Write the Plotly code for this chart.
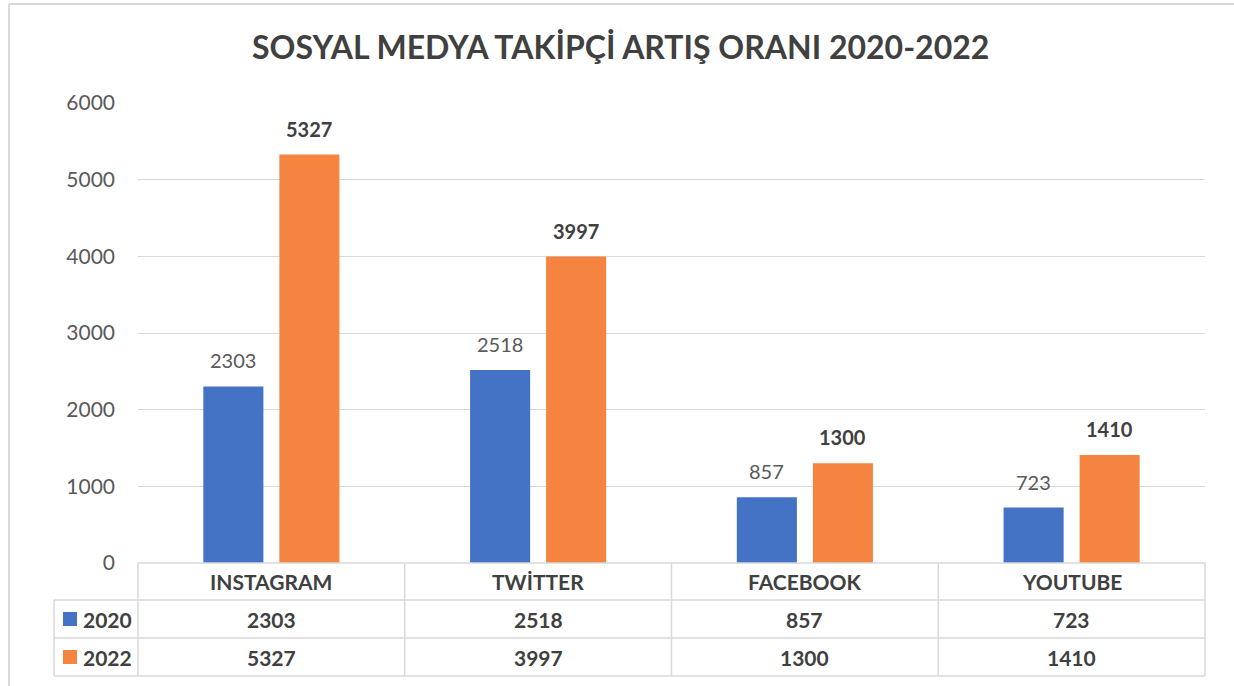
import plotly.graph_objects as go

categories = ["INSTAGRAM", "TWİTTER", "FACEBOOK", "YOUTUBE"]
series_names = ["2020", "2022"]
values_2020 = [2303, 2518, 857, 723]
values_2022 = [5327, 3997, 1300, 1410]
y_ticks = [0, 1000, 2000, 3000, 4000, 5000, 6000]
title_text = "SOSYAL MEDYA TAKİPÇİ ARTIŞ ORANI 2020-2022"

BLUE = "#4472C4"
ORANGE = "#F4843F"
GRID = "#D9D9D9"
TXT = "#595959"
TXTB = "#404040"
FONT = "Lato"

W, H = 1234, 686
L, R, T, B = 138, 29, 103, 123
PW, PH = W - L - R, H - T - B


def xp(px):
    return (px - L) / PW


def yp(py):
    return (H - B - py) / PH


fig = go.Figure()
fig.add_trace(go.Bar(x=categories, y=values_2020, name=series_names[0],
                     marker=dict(color=BLUE, line=dict(width=0))))
fig.add_trace(go.Bar(x=categories, y=values_2022, name=series_names[1],
                     marker=dict(color=ORANGE, line=dict(width=0))))

ann = []
shapes = []
slot = 76
# data labels
for i, c in enumerate(categories):
    ann.append(dict(x=c, y=values_2020[i], xref="x", yref="y", text=str(values_2020[i]),
                    showarrow=False, xshift=-slot / 2, yanchor="bottom", yshift=12,
                    font=dict(family=FONT, size=20, color=TXT)))
    ann.append(dict(x=c, y=values_2022[i], xref="x", yref="y", text="<b>%d</b>" % values_2022[i],
                    showarrow=False, xshift=slot / 2, yanchor="bottom", yshift=12,
                    font=dict(family=FONT, size=20, color=TXTB)))

# data table
row_lines = [563, 600, 638, 676]
col_edges = [138 + k * PW / 4 for k in range(5)]
lc = dict(color=GRID, width=1.5)
shapes.append(dict(type="line", xref="paper", yref="paper", x0=xp(138), x1=xp(1205),
                   y0=yp(563), y1=yp(563), line=lc, layer="above"))
for yy in row_lines[1:]:
    shapes.append(dict(type="line", xref="paper", yref="paper", x0=xp(54), x1=xp(1205),
                       y0=yp(yy), y1=yp(yy), line=lc, layer="above"))
for xx in col_edges:
    shapes.append(dict(type="line", xref="paper", yref="paper", x0=xp(xx), x1=xp(xx),
                       y0=yp(563), y1=yp(676), line=lc, layer="above"))
shapes.append(dict(type="line", xref="paper", yref="paper", x0=xp(54), x1=xp(54),
                   y0=yp(600), y1=yp(676), line=lc, layer="above"))

row_mid = [(563 + 600) / 2, (600 + 638) / 2, (638 + 676) / 2]
tf = dict(family=FONT, size=21, color=TXTB)
for i, c in enumerate(categories):
    ann.append(dict(x=c, xref="x", y=yp(row_mid[0]), yref="paper", text="<b>%s</b>" % c,
                    showarrow=False, xanchor="center", yanchor="middle", font=tf))
    ann.append(dict(x=c, xref="x", y=yp(row_mid[1]), yref="paper", text="<b>%d</b>" % values_2020[i],
                    showarrow=False, xanchor="center", yanchor="middle", font=tf))
    ann.append(dict(x=c, xref="x", y=yp(row_mid[2]), yref="paper", text="<b>%d</b>" % values_2022[i],
                    showarrow=False, xanchor="center", yanchor="middle", font=tf))

for k, (nm, col) in enumerate(zip(series_names, [BLUE, ORANGE])):
    ym = row_mid[k + 1]
    shapes.append(dict(type="rect", xref="paper", yref="paper", x0=xp(63), x1=xp(77),
                       y0=yp(ym + 7), y1=yp(ym - 7), fillcolor=col, line=dict(width=0), layer="above"))
    ann.append(dict(x=xp(81), xref="paper", y=yp(ym), yref="paper", text="<b>%s</b>" % nm,
                    showarrow=False, xanchor="left", yanchor="middle", font=tf))

# outer chart frame
shapes.append(dict(type="line", xref="paper", yref="paper", x0=xp(9), x1=xp(1240),
                   y0=yp(4), y1=yp(4), line=dict(color=GRID, width=2), layer="above"))
shapes.append(dict(type="line", xref="paper", yref="paper", x0=xp(9), x1=xp(9),
                   y0=yp(4), y1=yp(700), line=dict(color=GRID, width=2), layer="above"))

fig.update_layout(
    width=W, height=H,
    margin=dict(l=L, r=R, t=T, b=B, pad=0),
    paper_bgcolor="white", plot_bgcolor="white",
    barmode="group", bargap=0.43, bargroupgap=0.21,
    showlegend=False,
    title=dict(text="<b>%s</b>" % title_text, x=0.503, xanchor="center", y=1 - 48 / H,
               yanchor="middle", font=dict(family=FONT, size=32, color=TXTB)),
    xaxis=dict(showticklabels=False, showgrid=False, zeroline=False, showline=False,
               range=[-0.5, 3.5]),
    yaxis=dict(range=[0, 6000], tickvals=y_ticks, showgrid=True, gridcolor=GRID, gridwidth=1,
               zeroline=False, showline=False, ticklabelstandoff=22,
               tickfont=dict(family=FONT, size=21, color=TXT)),
    annotations=ann, shapes=shapes,
)

fig.write_html("out.html", config={"displayModeBar": False},
               post_script="document.body.style.margin='0';document.body.style.overflow='hidden';")
